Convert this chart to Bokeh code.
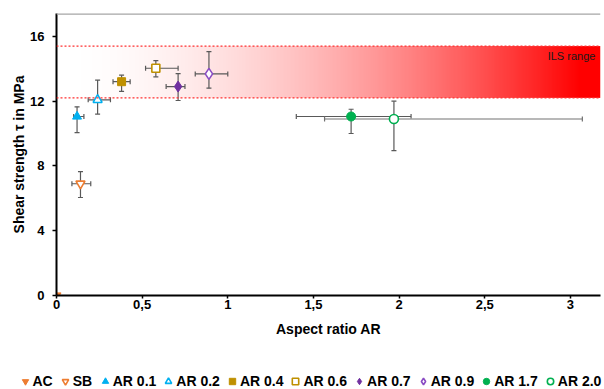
import numpy as np
from bokeh.plotting import figure
from bokeh.layouts import column
from bokeh.models import (Range1d, FixedTicker, CustomJSTickFormatter, Span, Label,
                          Whisker, TeeHead, ColumnDataSource, Legend, LegendItem)
from bokeh.embed import file_html
from bokeh.resources import INLINE

# ---- data ----
names = ["AC", "SB", "AR 0.1", "AR 0.2", "AR 0.4", "AR 0.6", "AR 0.7", "AR 0.9", "AR 1.7", "AR 2.0"]
ar = [0.0, 0.14, 0.12, 0.24, 0.38, 0.58, 0.71, 0.89, 1.72, 1.97]
ar_lo = [0.0, 0.09, 0.10, 0.185, 0.33, 0.52, 0.64, 0.81, 1.40, 1.565]
ar_hi = [0.0, 0.20, 0.16, 0.315, 0.43, 0.71, 0.75, 1.00, 2.07, 3.07]
tau = [0.0, 6.9, 11.05, 12.08, 13.2, 14.03, 12.9, 13.68, 11.05, 10.9]
tau_lo = [0.0, 6.05, 10.06, 11.2, 12.6, 13.5, 12.04, 12.8, 10.0, 8.95]
tau_hi = [0.0, 7.65, 11.65, 13.3, 13.6, 14.5, 13.7, 15.06, 11.5, 12.0]
ils_range = [12.2, 15.4]
x_ticks = [0, 0.5, 1, 1.5, 2, 2.5, 3]
y_ticks = [0, 4, 8, 12, 16]

markers = ["inverted_triangle", "inverted_triangle", "triangle", "triangle", "square", "square",
           "diamond", "diamond", "circle", "circle"]
colors = ["#ED7D31", "#ED7D31", "#00B0F0", "#00B0F0", "#BF9000", "#BF9000",
          "#7030A0", "#8A4CC4", "#00B050", "#00B050"]
filled = [True, False, True, False, True, False, True, False, True, False]
sizes = [9, 9, 9, 9, 8, 8, 11, 11, 9, 9]

X_END = 3.176
Y_END = 17.41
FONT = "Liberation Sans"

fig = figure(width=604, height=359, x_range=Range1d(0, X_END), y_range=Range1d(0, Y_END),
             output_backend="svg", toolbar_location=None,
             min_border_left=56, min_border_right=4, min_border_top=13, min_border_bottom=64,
             x_axis_label="Aspect ratio AR", y_axis_label="Shear strength \u03c4 in MPa")
fig.grid.visible = False
fig.outline_line_color = None
fig.frame_align = False

# ---- ILS band with gradient ----
N = 400
t = np.linspace(0, 1, N)
img = np.zeros((1, N), dtype=np.uint32)
view = img.view(dtype=np.uint8).reshape((1, N, 4))
view[0, :, 0] = 255
view[0, :, 1] = 0
view[0, :, 2] = 0
view[0, :, 3] = (np.clip(t * 1.04, 0, 1) ** 1.8 * 255).astype(np.uint8)
fig.image_rgba(image=[img], x=0, y=ils_range[0], dw=X_END, dh=ils_range[1] - ils_range[0], level="image")
for yv in ils_range:
    fig.add_layout(Span(location=yv, dimension="width", line_color="#FF3030",
                        line_dash="2 2", line_width=1.2))
fig.add_layout(Label(x=X_END - 0.03, y=14.8, text="ILS range", text_align="right",
                     text_baseline="middle", text_font_size="11px", text_color="#1a1a1a",
                     text_font=FONT))

# top border line
fig.add_layout(Span(location=Y_END, dimension="width", line_color="#A6A6A6", line_width=2.5))

# ---- error bars ----
idx = list(range(1, len(names)))
src_err = ColumnDataSource(dict(
    x=[ar[i] for i in idx], y=[tau[i] for i in idx],
    xl=[ar_lo[i] for i in idx], xh=[ar_hi[i] for i in idx],
    yl=[tau_lo[i] for i in idx], yh=[tau_hi[i] for i in idx]))
ERR = "#595959"
fig.add_layout(Whisker(source=src_err, base="x", lower="yl", upper="yh", dimension="height",
                       line_color=ERR, line_width=1.2, level="underlay",
                       upper_head=TeeHead(size=5, line_color=ERR, line_width=1.2),
                       lower_head=TeeHead(size=5, line_color=ERR, line_width=1.2)))
idx_h = [i for i in idx if names[i] != "AR 2.0"]
src_h = ColumnDataSource(dict(y=[tau[i] for i in idx_h], xl=[ar_lo[i] for i in idx_h],
                              xh=[ar_hi[i] for i in idx_h]))
fig.add_layout(Whisker(source=src_h, base="y", lower="xl", upper="xh", dimension="width",
                       line_color=ERR, line_width=1.2, level="underlay",
                       upper_head=TeeHead(size=5, line_color=ERR, line_width=1.2),
                       lower_head=TeeHead(size=5, line_color=ERR, line_width=1.2)))
idx_g = [i for i in idx if names[i] == "AR 2.0"]
GR = "#A0A0A0"
src_g = ColumnDataSource(dict(y=[tau[i] for i in idx_g], xl=[ar_lo[i] for i in idx_g],
                              xh=[ar_hi[i] for i in idx_g]))
fig.add_layout(Whisker(source=src_g, base="y", lower="xl", upper="xh", dimension="width",
                       line_color=GR, line_width=1.5, level="underlay",
                       upper_head=TeeHead(size=5, line_color="#707070", line_width=1.2),
                       lower_head=TeeHead(size=5, line_color="#707070", line_width=1.2)))

# ---- markers ----
for i, nm in enumerate(names):
    fig.scatter(x=[ar[i]], y=[tau[i]], marker=markers[i], size=sizes[i],
                fill_color=colors[i] if filled[i] else "white",
                line_color=colors[i], line_width=1 if filled[i] else 1.6)

# ---- axes ----
for ax in (fig.xaxis[0], fig.yaxis[0]):
    ax.axis_line_width = 2
    ax.axis_line_color = "black"
    ax.major_tick_line_color = "black"
    ax.major_tick_line_width = 1.5
    ax.major_tick_in = 0
    ax.minor_tick_line_color = None
    ax.major_label_text_font = FONT
    ax.major_label_text_font_style = "bold"
    ax.major_label_text_font_size = "13px"
    ax.major_label_text_color = "black"
    ax.axis_label_text_font = FONT
    ax.axis_label_text_font_style = "bold"
    ax.axis_label_text_font_size = "14px"
    ax.axis_label_text_color = "black"

xa = fig.xaxis[0]
xa.ticker = FixedTicker(ticks=x_ticks)
xa.formatter = CustomJSTickFormatter(code="return String(tick).replace('.', ',');")
xa.major_tick_out = 3
xa.major_label_standoff = 1
xa.axis_label_standoff = 9

ya = fig.yaxis[0]
ya.ticker = FixedTicker(ticks=y_ticks)
ya.major_tick_out = 4
ya.major_label_standoff = 8
ya.axis_label_standoff = 0

# ---- legend strip (separate figure under the chart) ----
leg = figure(width=604, height=30, x_range=Range1d(0, 1), y_range=Range1d(100, 101),
             output_backend="svg", toolbar_location=None, x_axis_type=None, y_axis_type=None,
             min_border_left=0, min_border_right=0, min_border_top=0, min_border_bottom=0)
leg.grid.visible = False
leg.outline_line_color = None
leg.frame_align = False
items = []
for i, nm in enumerate(names):
    r = leg.scatter(x=[ar[i]], y=[tau[i]], marker=markers[i], size=sizes[i],
                    fill_color=colors[i] if filled[i] else "white",
                    line_color=colors[i], line_width=1 if filled[i] else 1.6)
    items.append(LegendItem(label=nm, renderers=[r]))
legend = Legend(items=items, orientation="horizontal", location=(16.5, 0),
                glyph_width=16, glyph_height=16, label_standoff=-3, spacing=4,
                padding=0, margin=0, border_line_color=None, background_fill_alpha=0,
                label_text_font_size="14px", label_text_font_style="bold",
                label_text_font=FONT, label_height=14, label_text_color="black")
leg.add_layout(legend)

p = column(fig, leg, spacing=0)
open("out.html", "w").write(file_html(p, INLINE))
